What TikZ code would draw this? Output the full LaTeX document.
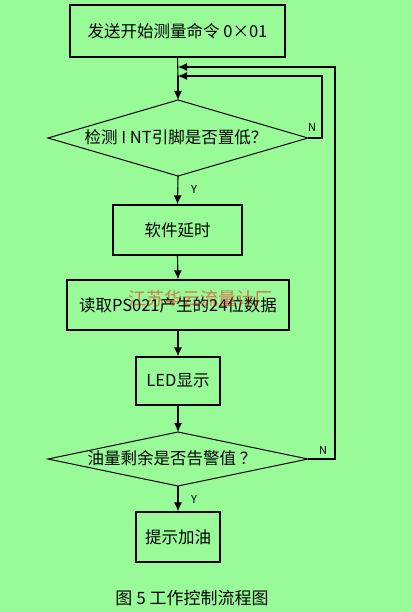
\documentclass[tikz,border=0pt]{standalone}
\usepackage{fontspec}
\setmainfont{Noto Sans CJK SC}
\usetikzlibrary{arrows.meta}
\definecolor{bg}{RGB}{152,251,152}
\tikzset{
  txt/.style={font=\fontsize{16.5}{16.5}\selectfont},
  box/.style={draw=black,line width=1.3pt,minimum height=50pt,inner sep=0pt,txt},
  dec/.style={draw=black,line width=1pt},
  flow/.style={draw=black,line width=1.1pt,-{Latex[length=9pt,width=8pt]}},
  line/.style={draw=black,line width=1.1pt},
  lab/.style={font=\fontsize{11}{11}\selectfont},
}
\begin{document}
\begin{tikzpicture}[x=1pt,y=-1pt]
\fill[bg] (0,0) rectangle (411,612);
\useasboundingbox (0,0) rectangle (411,612);
\node[box,minimum width=215pt,minimum height=52pt] (b1) at (177.5,31) {发送开始测量命令 0×01};
% diamond 1
\coordinate (d1t) at (178,100);
\coordinate (d1b) at (178,176);
\coordinate (d1l) at (48,138);
\coordinate (d1r) at (308,138);
\draw[dec] (d1t) -- (d1r) -- (d1b) -- (d1l) -- cycle;
\node[txt] (d1) at (176,137) {检测 I NT引脚是否置低？};
\node[box,minimum width=129pt] (b2) at (177.5,230) {软件延时};
\node[box,minimum width=222pt] (b3) at (178,305) {读取PS021产生的24位数据};
\node[box,minimum width=84pt,minimum height=48pt] (b4) at (178,381) {LED显示};
% diamond 2
\coordinate (d2t) at (178,432);
\coordinate (d2b) at (178,486);
\coordinate (d2l) at (48,459);
\coordinate (d2r) at (308,459);
\draw[dec] (d2t) -- (d2r) -- (d2b) -- (d2l) -- cycle;
\node[txt] (d2) at (172,458) {油量剩余是否告警值 ？};
\node[box,minimum width=84pt] (b5) at (178,537) {提示加油};
% merge points on main line
\coordinate (m1) at (178,67);
\coordinate (m2) at (178,76);
\draw[line] (b1.south) -- (m2);
\draw[flow] (m2) -- (d1t);
\draw[flow] (d1b) -- (b2.north);
\draw[flow] (b2.south) -- (b3.north);
\draw[flow] (b3.south) -- (b4.north);
\draw[flow] (b4.south) -- (d2t);
\draw[flow] (d2b) -- (b5.north);
% loops
\coordinate (r1a) at (322,138);
\coordinate (r1b) at (322,76);
\draw[flow] (d1r) -- (r1a) -- (r1b) -- (m2);
\coordinate (r2a) at (335,459);
\coordinate (r2b) at (335,67);
\draw[flow] (d2r) -- (r2a) -- (r2b) -- (m1);
% labels
\node[lab] (n1) at (312,127) {N};
\node[lab] (y1) at (194,189) {Y};
\node[lab] (n2) at (323,450) {N};
\node[lab] (y2) at (194,499) {Y};
% watermark
\node[text=red,opacity=0.5,font=\fontsize{18}{18}\selectfont] (wm) at (200,299) {江苏华云流量计厂};
% caption
\node[font=\fontsize{17}{17}\selectfont] (cap) at (192,598) {图 5 工作控制流程图};
\end{tikzpicture}
\end{document}
